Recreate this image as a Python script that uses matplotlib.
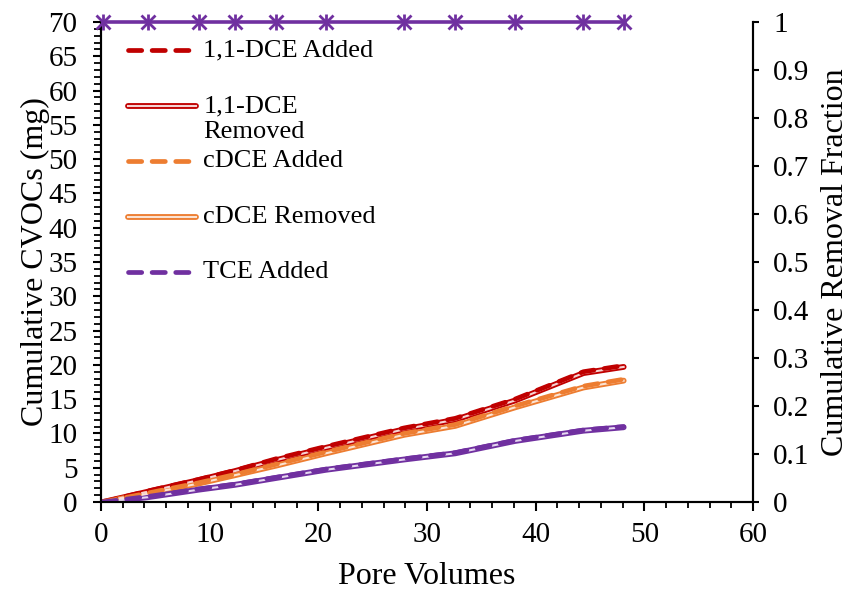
import matplotlib
matplotlib.use("Agg")
import matplotlib.pyplot as plt
from matplotlib.lines import Line2D
from matplotlib.ticker import MultipleLocator

plt.rcParams["font.family"] = ["Liberation Serif", "DejaVu Serif"]

# pore volumes at each sampling point
pore_vol = [0.2, 4.3, 9.0, 12.3, 16.1, 20.7, 27.9, 32.6, 38.1, 44.4, 48.1]

# cumulative mass (mg)
dce11_added = [0.0, 1.6, 3.3, 4.6, 6.3, 8.1, 10.8, 12.2, 15.0, 19.0, 19.9]
dce11_removed = [0.0, 1.5, 3.2, 4.5, 6.1, 7.9, 10.6, 12.0, 14.8, 18.8, 19.7]
cdce_added = [0.0, 1.3, 2.8, 4.0, 5.5, 7.3, 10.0, 11.3, 14.0, 16.9, 17.9]
cdce_removed = [0.0, 1.2, 2.7, 3.9, 5.3, 7.1, 9.8, 11.1, 13.8, 16.7, 17.7]
tce_added = [0.0, 0.8, 1.9, 2.6, 3.6, 4.8, 6.3, 7.2, 9.0, 10.5, 11.0]
tce_removed = [0.0, 0.7, 1.8, 2.5, 3.5, 4.7, 6.2, 7.1, 8.9, 10.4, 10.9]

# cumulative removal fraction (secondary axis)
removal_frac = [1, 1, 1, 1, 1, 1, 1, 1, 1, 1, 1]

RED = "#C00000"
ORANGE = "#ED7D31"
PURPLE = "#7030A0"
RED_IN = "#f6d3d3"
ORANGE_IN = "#fbe3d3"
PURPLE_IN = "#e6d8f0"

OUTER_LW = 4.2
INNER_LW = 1.5
DASH_LW = 3.4
DASHES = (2.8, 2.2)

fig = plt.figure(figsize=(8.51, 5.96), dpi=100)
ax = fig.add_axes([0.1187, 0.1577, 0.7661, 0.8054])
ax2 = ax.twinx()


def removed_line(y, color, inner):
    # excel style double line: coloured outline with pale centre
    ax.plot(pore_vol, y, color=color, lw=OUTER_LW, solid_joinstyle="round",
            solid_capstyle="round", zorder=2)
    ax.plot(pore_vol, y, color=inner, lw=INNER_LW, solid_joinstyle="round",
            zorder=2.1)


def added_line(y, color):
    ax.plot(pore_vol, y, color=color, lw=DASH_LW, dashes=DASHES,
            dash_capstyle="round", zorder=3)


removed_line(dce11_removed, RED, RED_IN)
removed_line(cdce_removed, ORANGE, ORANGE_IN)
removed_line(tce_removed, PURPLE, PURPLE_IN)
added_line(dce11_added, RED)
added_line(cdce_added, ORANGE)
added_line(tce_added, PURPLE)

# hand-made legend, laid out the way excel stacks the entries
# (label, colour, inner colour for double lines, handle y, text y)
legend_rows = [
    ("1,1-DCE Added", RED, None, 0.9417, 0.9417),
    ("1,1-DCE\nRemoved", RED, RED_IN, 0.825, 0.797),
    ("cDCE Added", ORANGE, None, 0.7104, 0.7104),
    ("cDCE Removed", ORANGE, ORANGE_IN, 0.594, 0.594),
    ("TCE Added", PURPLE, None, 0.479, 0.479),
]
hx = [0.041, 0.146]
for text, color, inner, yy, ty in legend_rows:
    if inner is None:
        ax.add_line(Line2D(hx, [yy, yy], color=color, lw=DASH_LW,
                           dashes=DASHES, dash_capstyle="round",
                           transform=ax.transAxes, zorder=6))
    else:
        ax.add_line(Line2D(hx, [yy, yy], color=color, lw=OUTER_LW,
                           solid_capstyle="round",
                           transform=ax.transAxes, zorder=6))
        ax.add_line(Line2D(hx, [yy, yy], color=inner, lw=INNER_LW,
                           transform=ax.transAxes, zorder=6))
    ax.text(0.157, ty, text, transform=ax.transAxes, fontsize=19,
            ha="left", va="center", linespacing=1.2, zorder=6)

# removal fraction with asterisk markers
ax2.plot(pore_vol, removal_frac, color=PURPLE, lw=2.6, clip_on=False,
         zorder=4)
ax2.plot(pore_vol, removal_frac, color=PURPLE, lw=0, marker="x", ms=10,
         mew=2, clip_on=False, zorder=5)
ax2.plot(pore_vol, removal_frac, color=PURPLE, lw=0, marker="|", ms=12,
         mew=2, clip_on=False, zorder=5)

ax.set_xlim(0, 60)
ax.set_ylim(0, 70)

ax.xaxis.set_major_locator(MultipleLocator(10))
ax.xaxis.set_minor_locator(MultipleLocator(2))
ax.yaxis.set_major_locator(MultipleLocator(5))
ax.yaxis.set_minor_locator(MultipleLocator(1))
frac_ticks = [i / 10 for i in range(11)]
ax2.set_yticks(frac_ticks)
ax2.set_yticklabels(["0" if v == 0 else f"{v:g}" for v in frac_ticks])
ax2.set_ylim(0, 1)

for a in (ax, ax2):
    for s in a.spines.values():
        s.set_linewidth(1.5)
    a.spines["top"].set_visible(False)

ax.tick_params(axis="x", which="major", direction="out", length=6.5,
               width=1.5, labelsize=21, pad=8)
ax.tick_params(axis="x", which="minor", direction="out", length=4, width=1.3)
ax.tick_params(axis="y", which="major", direction="out", length=6, width=1.5,
               labelsize=21, pad=11)
ax.tick_params(axis="y", which="minor", direction="out", length=5, width=1.3)
ax2.tick_params(axis="y", which="major", direction="out", length=4.5,
                width=1.5, labelsize=21, pad=10)

ax.set_xlabel("Pore Volumes", fontsize=23, labelpad=10)
ax.set_ylabel("Cumulative CVOCs (mg)", fontsize=23, labelpad=-1)
ax2.set_ylabel("Cumulative Removal Fraction", fontsize=23, labelpad=8)

fig.savefig("out.png", dpi=100)
